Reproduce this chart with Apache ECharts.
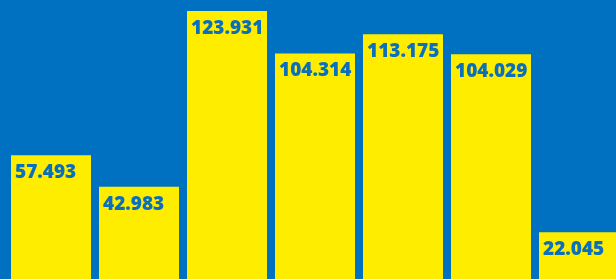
<!DOCTYPE html>
<html>
<head>
<meta charset="utf-8">
<script src="https://cdn.jsdelivr.net/npm/echarts@6/dist/echarts.min.js"></script>
<style>
  html, body { margin: 0; padding: 0; background: #0070c0; }
  #chart { width: 616px; height: 279px; }
</style>
</head>
<body>
<div id="chart"></div>
<script>
// bar categories and values
const categories = ['A', 'B', 'C', 'D', 'E', 'F', 'G'];
const values = [57.493, 42.983, 123.931, 104.314, 113.175, 104.029, 22.045];

const chart = echarts.init(document.getElementById('chart'));
chart.setOption({
  backgroundColor: '#0070c0',
  animation: false,
  grid: { left: 7, width: 616, top: 11, height: 269, outerBoundsMode: 'none', containLabel: false },
  xAxis: {
    type: 'category',
    data: categories,
    show: false
  },
  yAxis: {
    type: 'value',
    min: 0,
    max: 'dataMax',
    show: false,
    splitLine: { show: false }
  },
  series: [{
    type: 'bar',
    data: values,
    barWidth: 80,
    itemStyle: { color: '#ffed00' },
    label: {
      show: true,
      position: 'insideTopLeft',
      distance: 4,
      offset: [0, 4],
      color: '#0a6fbd',
      fontFamily: 'Open Sans',
      fontWeight: 800,
      fontSize: 19,
      formatter: p => p.value.toFixed(3)
    }
  }]
});
</script>
</body>
</html>
